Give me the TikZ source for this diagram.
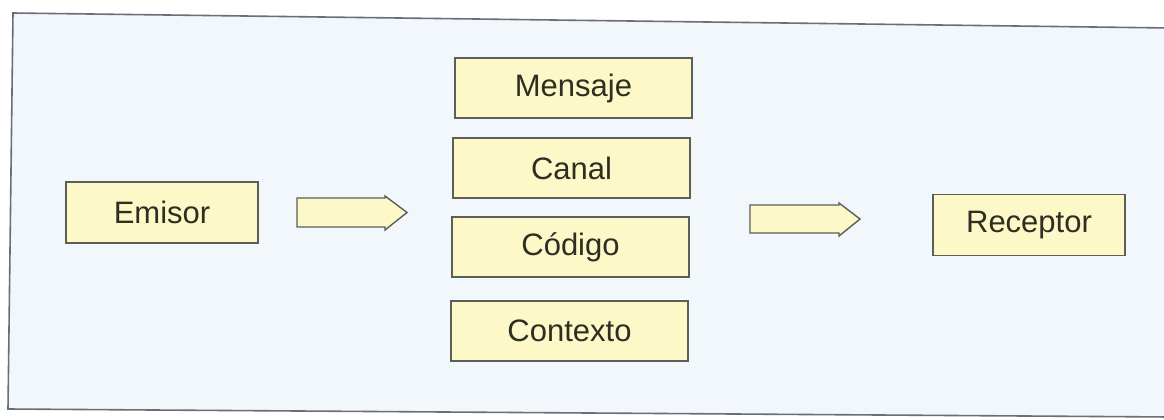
\documentclass[tikz,border=0pt]{standalone}
\usepackage{fontspec}
\setmainfont{Liberation Sans}
\definecolor{panelbg}{HTML}{F1F7FB}
\definecolor{panelline}{HTML}{6A6E78}
\definecolor{boxfill}{HTML}{FCF8C8}
\definecolor{boxline}{HTML}{5E5E58}
\definecolor{txt}{HTML}{2E2E22}
\tikzset{
  lbox/.style={draw=boxline, line width=1.6pt, fill=boxfill, minimum width=192pt, minimum height=61pt, inner sep=0pt, text=txt, font=\fontsize{31}{36}\selectfont},
  cbox/.style={lbox, minimum width=237pt, minimum height=60pt},
  fatarrow/.style={draw=boxline, line width=1.4pt, fill=boxfill, line join=miter}
}
\begin{document}
\begin{tikzpicture}[x=1pt,y=-1pt]
\useasboundingbox (0,0) rectangle (1164,420);
\fill[white] (0,0) rectangle (1164,420);
\filldraw[fill=panelbg, draw=panelline, line width=1.6pt] (1170,28) -- (13,13) -- (8,409) -- (1170,417);
\node[lbox] (emisor) at (162,212.5) {Emisor};
\node[cbox] (mensaje) at (573.5,88) {Mensaje};
\node[cbox] (canal) at (571.5,168) {Canal};
\node[cbox] (codigo) at (570.5,247) {Código};
\node[cbox] (contexto) at (569.5,331) {Contexto};
\node[lbox] (receptor) at (1029,225) {Receptor};
% block arrows
\draw[fatarrow] (297,198) -- (385,198) -- (385,196) -- (407,212.5) -- (385,230) -- (385,227) -- (297,227) -- cycle;
\draw[fatarrow] (750,205) -- (839,205) -- (839,203) -- (860,219) -- (839,236) -- (839,233) -- (750,233) -- cycle;
\end{tikzpicture}
\end{document}
